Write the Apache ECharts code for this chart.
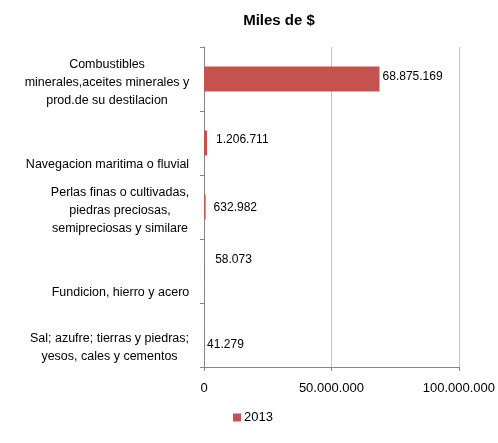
<!DOCTYPE html>
<html>
<head>
<meta charset="utf-8">
<script src="https://cdn.jsdelivr.net/npm/echarts@6/dist/echarts.min.js"></script>
<style>
  html, body { margin: 0; padding: 0; background: #fff; }
  #chart { width: 498px; height: 443px; }
</style>
</head>
<body>
<div id="chart"></div>
<script>
// categorias (de arriba hacia abajo)
const categories = [
  'Combustibles\nminerales,aceites minerales y\nprod.de su destilacion',
  'Navegacion maritima o fluvial',
  'Perlas finas o cultivadas,\npiedras preciosas,\nsemipreciosas y similare',
  'Fundicion, hierro y acero',
  'Sal; azufre; tierras y piedras;\nyesos, cales y cementos'
]
const values2013 = [68875169, 1206711, 632982, 58073, 41279]
const seriesName = '2013'
const xTicks = [0, 50000000, 100000000]

// desplazamiento de las etiquetas de valor (como quedaron en excel)
const labelNudge = [[0, -2], [6, -3], [5, 1], [8, -11], [0, 10]]

// miles con punto
function fmt(n) {
  return String(n).replace(/\B(?=(\d{3})+(?!\d))/g, '.')
}

const fontFamily = '"Liberation Sans", sans-serif'
const catFont = 12.5
const lineH = 18
const bandH = 64

// medir texto para centrar las lineas dentro del bloque
const ctx = document.createElement('canvas').getContext('2d')
ctx.font = catFont + 'px "Liberation Sans"'

// como excel: el bloque de texto queda pegado al borde inferior de la banda
function spacerFor(v) {
  const n = v.split('\n').length
  return Math.max(bandH - 2 - n * lineH, 1)
}

const rich = {}
categories.forEach((c, i) => {
  const lines = c.split('\n')
  const w = Math.ceil(Math.max(...lines.map(l => ctx.measureText(l).width))) + 1
  rich['s' + i] = { lineHeight: spacerFor(c), height: spacerFor(c), fontSize: 1 }
  rich['c' + i] = { width: w, align: 'center', fontSize: catFont, lineHeight: lineH, color: '#000' }
})

const chart = echarts.init(document.getElementById('chart'))

chart.setOption({
  textStyle: { fontFamily: fontFamily },
  title: {
    text: 'Miles de $',
    left: 274,
    textAlign: 'center',
    top: 8,
    textStyle: { fontSize: 15, fontWeight: 'bold', color: '#000', fontFamily: fontFamily }
  },
  legend: {
    data: [seriesName],
    bottom: 14,
    left: 228,
    itemWidth: 8,
    itemHeight: 8,
    itemGap: 4,
    icon: 'rect',
    textStyle: { fontSize: 13, color: '#000', padding: [0, 0, 0, -2] }
  },
  grid: { left: 204, right: 38, top: 47, bottom: 76, containLabel: false },
  xAxis: {
    type: 'value',
    min: xTicks[0],
    max: xTicks[xTicks.length - 1],
    interval: xTicks[1] - xTicks[0],
    axisLine: { show: true, lineStyle: { color: '#868686' } },
    axisTick: { show: true, length: 4, lineStyle: { color: '#868686' } },
    splitLine: { show: true, lineStyle: { color: '#c4c4c4', width: 1 } },
    axisLabel: { color: '#000', fontSize: 13, margin: 15, formatter: v => fmt(v) }
  },
  yAxis: {
    type: 'category',
    inverse: true,
    data: categories,
    axisLine: { show: true, lineStyle: { color: '#868686' } },
    axisTick: { show: true, length: 4, lineStyle: { color: '#868686' } },
    axisLabel: {
      color: '#000',
      margin: 14,
      align: 'right',
      verticalAlign: 'middle',
      rich: rich,
      formatter: (v, i) => {
        const lines = v.split('\n')
        return '{s' + i + '| }\n' + lines.map(l => '{c' + i + '|' + l + '}').join('\n')
      }
    },
    splitLine: { show: false }
  },
  series: [{
    name: seriesName,
    type: 'bar',
    data: values2013.map((v, i) => ({ value: v, label: { offset: labelNudge[i] } })),
    barWidth: 25,
    itemStyle: { color: '#C4524F' },
    label: {
      show: true,
      position: 'right',
      distance: 3,
      color: '#000',
      fontSize: 12,
      formatter: p => fmt(p.value)
    }
  }]
})
</script>
</body>
</html>
